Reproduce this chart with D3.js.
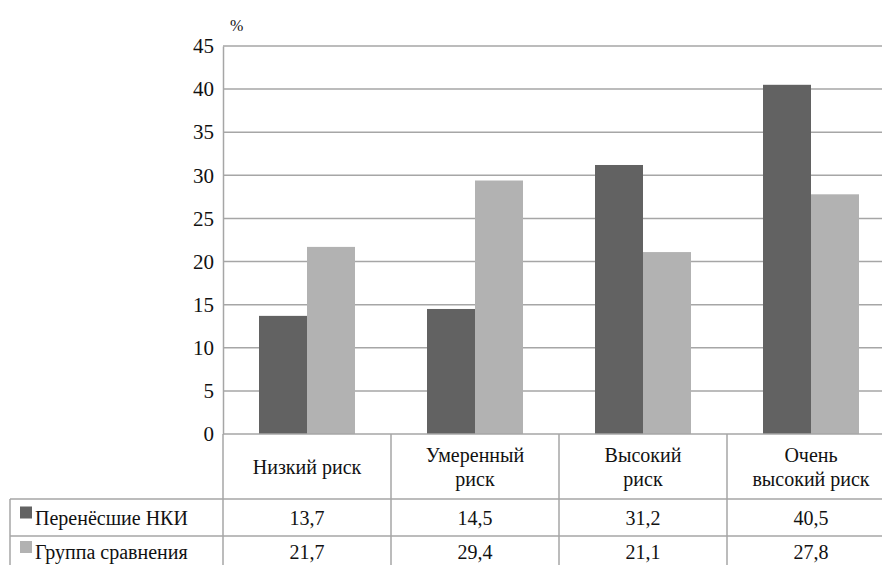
<!DOCTYPE html>
<html>
<head>
<meta charset="utf-8">
<script src="https://cdn.jsdelivr.net/npm/d3@7"></script>
<style>
  body { margin: 0; background: #fff; }
  svg text { font-family: "Liberation Serif", "Times New Roman", serif !important; }
</style>
</head>
<body>
<svg id="chart" width="882" height="565"></svg>
<script>
// categories (multi-line labels) and series
const categories = [["Низкий риск"], ["Умеренный", "риск"], ["Высокий", "риск"], ["Очень", "высокий риск"]];
const seriesNames = ["Перенёсшие НКИ", "Группа сравнения"];
const seriesNki = [13.7, 14.5, 31.2, 40.5];
const seriesCompare = [21.7, 29.4, 21.1, 27.8];
const yTicks = [0, 5, 10, 15, 20, 25, 30, 35, 40, 45];

const colors = ["#626262", "#b2b2b2"];
const gridColor = "#a6a6a6";
const fontStack = "Liberation Serif, Times New Roman, serif";

const width = 882, height = 565;
const plotLeft = 223, plotTop = 46, plotBottom = 434;
const bandW = 168;

const svg = d3.select("#chart");

let yScale = d3.scaleLinear().domain([0, 45]).range([plotBottom, plotTop]);
let xScale = d3.scaleBand()
    .domain(d3.range(categories.length))
    .range([plotLeft, plotLeft + bandW * categories.length])
    .padding(0);
let xInner = d3.scaleBand()
    .domain([0, 1])
    .range([36, bandW - 36])
    .padding(0);

//---GRIDLINES---------------------------------------------------------------
svg.append("g").selectAll("line")
    .data(yTicks.filter(d => d > 0))
    .enter().append("line")
    .attr("x1", plotLeft).attr("x2", width)
    .attr("y1", d => yScale(d)).attr("y2", d => yScale(d))
    .attr("stroke", gridColor).attr("stroke-width", 1.5);

//---Y AXIS------------------------------------------------------------------
let yAxis = d3.axisLeft(yScale).tickValues(yTicks).tickSize(0).tickPadding(9);
let yAx = svg.append("g")
    .attr("transform", "translate(" + plotLeft + ",0)")
    .call(yAxis)
    .attr("font-family", fontStack);
yAx.select(".domain").attr("stroke", gridColor).attr("stroke-width", 1.5);
yAx.selectAll("text")
    .attr("font-family", fontStack)
    .attr("font-size", 21)
    .attr("fill", "#111");

svg.append("text")
    .attr("x", 230).attr("y", 31)
    .attr("font-family", fontStack)
    .attr("font-size", 16)
    .attr("fill", "#111")
    .text("%");

//---BARS--------------------------------------------------------------------
const allSeries = [seriesNki, seriesCompare];
allSeries.forEach((vals, s) => {
    svg.append("g").selectAll("rect")
        .data(vals)
        .enter().append("rect")
        .attr("x", (d, i) => xScale(i) + xInner(s))
        .attr("width", xInner.bandwidth())
        .attr("y", d => yScale(d))
        .attr("height", d => plotBottom - yScale(d))
        .attr("fill", colors[s]);
});

//---TABLE-------------------------------------------------------------------
const row0 = plotBottom, row1 = 499, row2 = 536, row3 = 572;
const tableLeft = 10;
const tableRight = plotLeft + bandW * categories.length;
const tbl = svg.append("g").attr("stroke", gridColor).attr("stroke-width", 1.5);

// x axis line / top of table
tbl.append("line").attr("x1", plotLeft).attr("x2", tableRight).attr("y1", row0).attr("y2", row0);
[row1, row2, row3].forEach(y => {
    tbl.append("line").attr("x1", tableLeft).attr("x2", tableRight).attr("y1", y).attr("y2", y);
});
tbl.append("line").attr("x1", tableLeft).attr("x2", tableLeft).attr("y1", row1).attr("y2", row3);
d3.range(categories.length + 1).forEach(i => {
    let x = plotLeft + bandW * i;
    tbl.append("line").attr("x1", x).attr("x2", x).attr("y1", row0).attr("y2", row3);
});

// category labels, one text per line
categories.forEach((lines, i) => {
    let cx = xScale(i) + bandW / 2;
    let cy = (row0 + row1) / 2;
    let lh = 24;
    lines.forEach((ln, k) => {
        svg.append("text")
            .attr("x", cx)
            .attr("y", cy + (k - (lines.length - 1) / 2) * lh + 7)
            .attr("text-anchor", "middle")
            .attr("font-family", fontStack)
            .attr("font-size", 20)
            .attr("fill", "#111")
            .text(ln);
    });
});

// value rows
const rowsY = [[row1, row2], [row2, 568]];
allSeries.forEach((vals, s) => {
    let cy = (rowsY[s][0] + rowsY[s][1]) / 2 + 7;
    svg.append("rect")
        .attr("x", 20).attr("y", cy - 18)
        .attr("width", 12).attr("height", 12)
        .attr("fill", colors[s]);
    svg.append("text")
        .attr("x", 35).attr("y", cy)
        .attr("font-family", fontStack)
        .attr("font-size", 20)
        .attr("fill", "#111")
        .text(seriesNames[s]);
    svg.append("g").selectAll("text")
        .data(vals)
        .enter().append("text")
        .attr("x", (d, i) => xScale(i) + bandW / 2)
        .attr("y", cy)
        .attr("text-anchor", "middle")
        .attr("font-family", fontStack)
        .attr("font-size", 20)
        .attr("fill", "#111")
        .text(d => String(d).replace(".", ","));
});
</script>
</body>
</html>
